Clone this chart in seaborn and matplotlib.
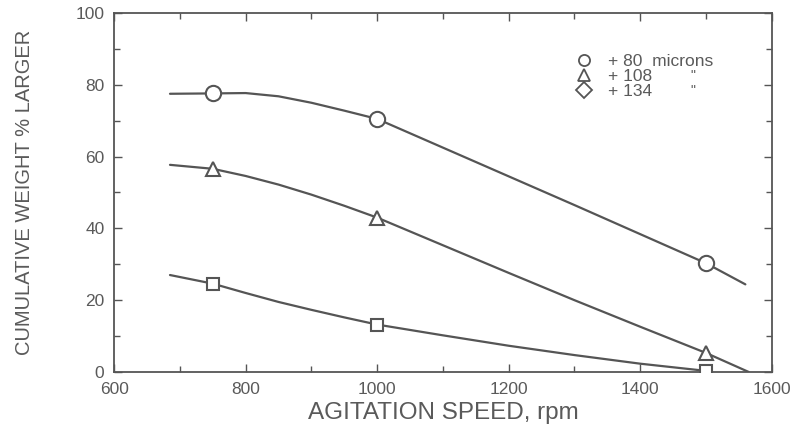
import numpy as np
import pandas as pd
import matplotlib
matplotlib.use('Agg')
import matplotlib.pyplot as plt
from matplotlib.lines import Line2D
from matplotlib.ticker import MultipleLocator
import seaborn as sns

# measured points (rpm, cumulative weight % larger)
speed = [750, 1000, 1500]
plus80 = [77.6, 70.5, 30.3]
plus108 = [56.6, 43.0, 5.3]
plus134 = [24.6, 13.2, 0.3]

# hand-drawn curves
curve80_x = [685, 750, 800, 850, 900, 950, 1000, 1100, 1200, 1300, 1400, 1500, 1560]
curve80_y = [77.5, 77.6, 77.7, 76.8, 75.0, 72.8, 70.5, 62.5, 54.5, 46.5, 38.4, 30.3, 24.4]
curve108_x = [685, 750, 800, 850, 900, 950, 1000, 1100, 1200, 1300, 1400, 1500, 1565]
curve108_y = [57.7, 56.6, 54.6, 52.2, 49.4, 46.3, 43.0, 35.3, 27.6, 20.0, 12.6, 5.3, 0.0]
curve134_x = [685, 750, 800, 850, 900, 950, 1000, 1100, 1200, 1300, 1400, 1500]
curve134_y = [27.0, 24.6, 22.0, 19.5, 17.3, 15.2, 13.2, 10.2, 7.3, 4.7, 2.3, 0.3]

legend_labels = ['+ 80  microns', '+ 108', '+ 134']

sns.set_style('ticks')
plt.rcParams['font.family'] = ['Liberation Sans', 'DejaVu Sans']

ink = '#555555'
txt = '#5a5a5a'

fig = plt.figure(figsize=(7.98, 4.34), dpi=100)
ax = fig.add_axes([0.143, 0.143, 0.824, 0.827])

curves = [(curve80_x, curve80_y), (curve108_x, curve108_y), (curve134_x, curve134_y)]
for cx, cy in curves:
    sns.lineplot(x=cx, y=cy, ax=ax, color=ink, lw=1.6, sort=False, estimator=None)

markers = ['o', '^', 's']
sizes = [11, 10.5, 9]
for vals, m, s in zip([plus80, plus108, plus134], markers, sizes):
    ax.plot(speed, vals, ls='none', marker=m, ms=s, mfc='white', mec=ink, mew=1.5, zorder=5)

ax.set_xlim(600, 1600)
ax.set_ylim(0, 100)
ax.xaxis.set_major_locator(MultipleLocator(200))
ax.xaxis.set_minor_locator(MultipleLocator(100))
ax.yaxis.set_major_locator(MultipleLocator(20))
ax.yaxis.set_minor_locator(MultipleLocator(10))
ax.tick_params(which='both', direction='in', top=True, right=True, colors=ink, labelcolor=txt,
               labelsize=12.5, width=1.0)
ax.tick_params(which='major', length=6, pad=7)
ax.tick_params(which='minor', length=4)
for sp in ax.spines.values():
    sp.set_color(ink)
    sp.set_linewidth(1.3)

ax.set_xlabel('AGITATION SPEED, rpm', fontsize=17.5, color=txt, labelpad=4)
ax.set_ylabel('CUMULATIVE WEIGHT % LARGER', fontsize=14.5, color=txt, labelpad=30)

handles = [Line2D([], [], ls='none', marker=m, ms=8, mfc='white', mec=ink, mew=1.3)
           for m in ['o', '^', 'D']]
leg = ax.legend(handles, legend_labels, loc='upper left', bbox_to_anchor=(0.704, 0.886),
                frameon=False, fontsize=12.5, handlelength=0.8, handletextpad=1.0,
                labelspacing=0.0, borderaxespad=0, borderpad=0)
for t in leg.get_texts():
    t.set_color(txt)
ax.text(0.880, 0.824, '"', transform=ax.transAxes, fontsize=10, color=txt, ha='center', va='center')
ax.text(0.880, 0.782, '"', transform=ax.transAxes, fontsize=10, color=txt, ha='center', va='center')

fig.savefig('out.png', dpi=100)
